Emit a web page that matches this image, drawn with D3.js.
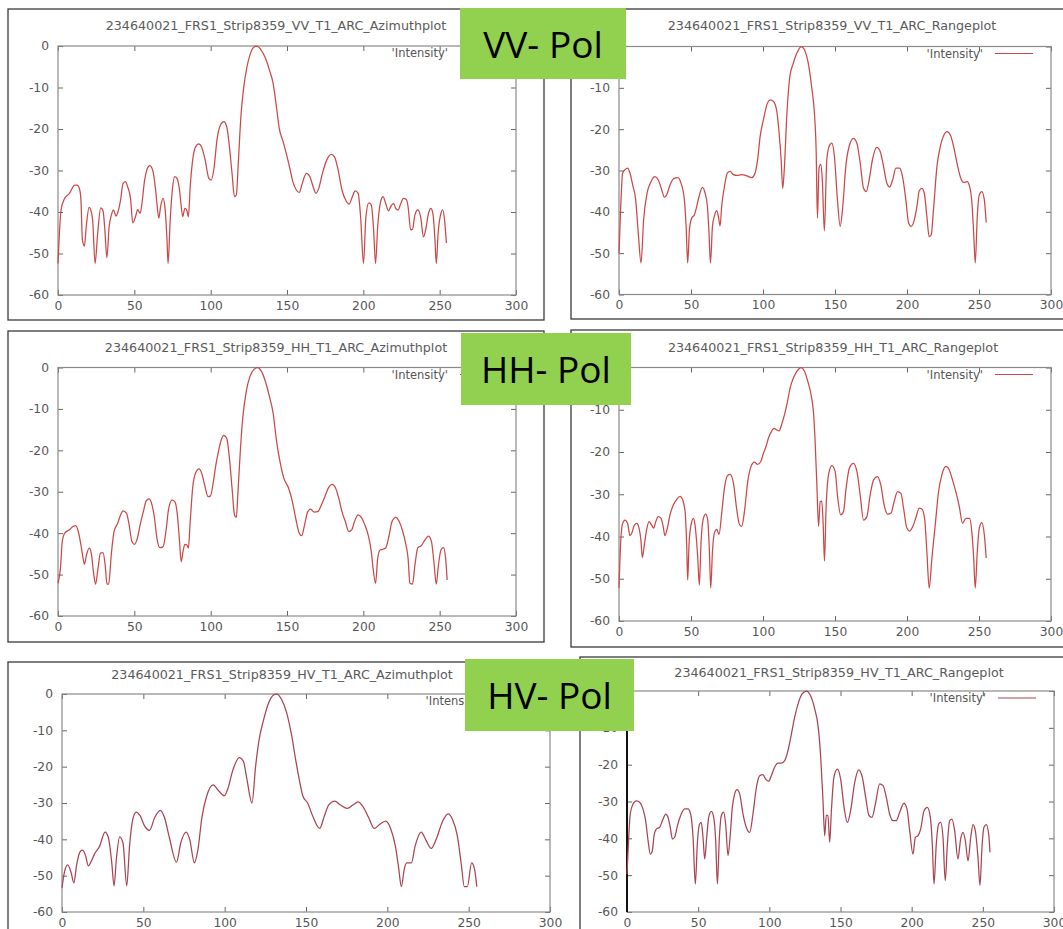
<!DOCTYPE html>
<html>
<head>
<meta charset="utf-8">
<script src="https://cdn.jsdelivr.net/npm/d3@7"></script>
<style>
body { margin: 0; background: #fff; }
svg { display: block; }
</style>
</head>
<body>
<div id="graph"></div>
<script>
var xTicks = [0, 50, 100, 150, 200, 250, 300];
var yTicks = [0, -10, -20, -30, -40, -50, -60];
var legendLabel = "'Intensity'";
var polLabels = ["VV- Pol", "HH- Pol", "HV- Pol"];
var plotTitles = [
  "234640021_FRS1_Strip8359_VV_T1_ARC_Azimuthplot",
  "234640021_FRS1_Strip8359_VV_T1_ARC_Rangeplot",
  "234640021_FRS1_Strip8359_HH_T1_ARC_Azimuthplot",
  "234640021_FRS1_Strip8359_HH_T1_ARC_Rangeplot",
  "234640021_FRS1_Strip8359_HV_T1_ARC_Azimuthplot",
  "234640021_FRS1_Strip8359_HV_T1_ARC_Rangeplot"
];

// [sample, dB]
var vvAzimuth = [[0,-52.4],[2,-39.5],[4,-37],[7.5,-35.5],[11,-33.5],[12.5,-33.5],[14,-34.3],[15,-37],[16,-46.7],[17.3,-48.2],[18.5,-43.5],[20.4,-38.9],[21.5,-39.5],[22.7,-42],[24.3,-52.4],[26,-45],[28,-39],[29.5,-39.7],[30.7,-44.3],[32,-51],[33.5,-43.5],[35,-40.7],[36.3,-39.5],[38,-41],[39,-40.3],[41,-37.1],[42.6,-33.1],[44.2,-32.7],[45.6,-33.9],[47.5,-36.7],[49,-42.6],[50.8,-41.1],[52.2,-39.4],[53.8,-40.3],[55,-37.9],[56.6,-32.7],[58.5,-29.5],[60.1,-28.8],[62,-29.9],[63.7,-33.9],[64.8,-37.9],[66,-41.5],[67.2,-38.7],[68.8,-36.7],[70,-38.7],[71.4,-46.7],[72.1,-52.4],[73.5,-41.9],[74.9,-34.7],[76.5,-31.5],[77.9,-31.9],[79.6,-34.7],[80.5,-37.9],[81.7,-41.1],[83.1,-39.1],[84.3,-39.5],[85.4,-41.1],[86.6,-33.9],[88.2,-27.5],[90.1,-24.3],[92.2,-23.6],[94,-24.3],[96.4,-27.5],[98.8,-31.9],[100.4,-32.3],[102.3,-29.1],[104.1,-22.7],[106.5,-19],[108.6,-18.2],[110.5,-19.4],[112.3,-24.3],[114,-30.7],[115.6,-36.3],[116.8,-35.9],[118.2,-27.5],[119.8,-17],[121.7,-9.8],[123.8,-5],[125.7,-2.2],[128,-0.4],[130.4,0],[132.7,-0.8],[135.5,-2.6],[138.5,-5.8],[140.9,-9],[143.2,-15],[144.9,-19.8],[147.4,-23],[149.8,-26.3],[152.1,-29.9],[153.8,-32.7],[156.1,-34.7],[158,-35.3],[160,-33.1],[162.7,-30.7],[165,-31.5],[167.1,-33.9],[169,-35.5],[170.8,-34.3],[173.2,-30.7],[176,-27.5],[179,-26.1],[181.1,-26.7],[183.5,-29.9],[186,-34.7],[188.4,-37.1],[190.7,-38.1],[192.8,-36.3],[194.7,-34.9],[196.6,-35.5],[198.2,-41.1],[200.1,-52.4],[201.7,-41.1],[203.6,-37.8],[205.2,-38.3],[206.6,-43.5],[208,-52.4],[209.4,-43.5],[211.1,-37.9],[212.9,-36.3],[214.6,-37.9],[216.5,-39.7],[218.1,-38.6],[219.8,-37.9],[221.2,-39.1],[222.8,-39.5],[224.4,-38.1],[226.3,-36.7],[228.2,-37],[229.3,-38.7],[231,-44.3],[232.2,-44.2],[233.8,-40.7],[235.7,-39.5],[237.5,-41.1],[239.4,-46],[240.8,-44.3],[242.7,-40.3],[244.3,-39.1],[245.7,-40.7],[246.9,-46.7],[247.8,-52.4],[249,-45.1],[250.4,-41],[252,-39.5],[253.2,-41.9],[254.4,-47.5]];

var vvRange = [[0,-50],[1.2,-38.7],[2.5,-30.6],[4.2,-29.8],[6,-29.4],[7.6,-30.6],[9.5,-33.5],[11.6,-37.1],[13.4,-45.2],[15.3,-52.4],[17.1,-41.9],[19.5,-35.5],[22.2,-32.7],[25,-31.5],[27.3,-32.3],[29.7,-34.7],[31.5,-36.5],[33.1,-35.9],[35.4,-33.5],[38.2,-31.9],[40.8,-31.7],[43.1,-33.1],[45.4,-37.1],[46.6,-43.5],[47.7,-52.4],[48.9,-44.4],[50.5,-41.5],[52.4,-40.7],[53.7,-39.1],[55.6,-36.3],[57.9,-34.1],[59.8,-35.5],[61.4,-38.7],[62.5,-45.2],[63.5,-52.4],[64.9,-43.5],[66.2,-41.1],[67.9,-39.7],[69,-41.1],[70.2,-43.4],[71.3,-38.7],[73.2,-33.9],[75.3,-30.6],[77.1,-30.2],[79.5,-31],[81.8,-31.2],[85.2,-31],[88.7,-31.3],[92.2,-31.7],[94.5,-30.6],[96.4,-27],[98,-21.8],[100.3,-17.7],[103.1,-13.7],[104.9,-12.9],[107.3,-13.3],[109.6,-15.7],[111.2,-21],[112.6,-27.4],[113.7,-34.3],[114.9,-29],[116.5,-16.9],[118.8,-6.9],[121.1,-4],[123.5,-1.6],[126.5,0],[128.8,-0.8],[131.6,-4.4],[133.9,-10.1],[135.7,-16.1],[136.9,-25],[137.8,-41.5],[138.9,-29.4],[140.1,-28.5],[141.2,-32.3],[142.6,-44.6],[144.3,-27.4],[145.9,-24.2],[147.8,-23.4],[149.6,-26.6],[151.7,-37.1],[153.6,-43.5],[155.4,-38.7],[157.5,-29],[159.8,-24.2],[162.8,-22.2],[165.2,-23.4],[167.5,-28.2],[169.8,-34.3],[171.7,-35.1],[173.7,-32.3],[176,-27.4],[179,-24.4],[181.4,-25.4],[183.7,-29],[186,-33.1],[187.9,-34],[190,-32.3],[192.3,-29.4],[194.8,-29.4],[196.9,-31.5],[199.2,-37.1],[201.1,-42.7],[202.9,-43.5],[204.8,-42.3],[206.9,-38.7],[208.5,-34.9],[210.3,-34.3],[212,-35.5],[213.8,-41.1],[215.4,-46],[216.8,-45.6],[218.4,-39.5],[220.8,-29],[223.1,-24.2],[225.4,-21.6],[227.8,-20.6],[230.1,-21.4],[232.4,-24.2],[234.7,-28.2],[237,-31.5],[239.4,-32.9],[241.7,-32.7],[243.5,-33.9],[245.1,-37.9],[246.3,-45.2],[247.4,-52.4],[248.8,-41.1],[250.2,-35.9],[252,-35.1],[253.7,-37.1],[255,-42.6]];

var hhAzimuth = [[0,-52.1],[1.6,-48.5],[2.8,-42],[4.4,-40],[7.5,-39.2],[9.8,-38.4],[11.5,-38.2],[13.3,-39.6],[15,-42.8],[16.4,-46],[17.3,-47.5],[18.7,-45.2],[20.4,-43.6],[21.8,-44.8],[23.2,-49.3],[24.6,-52.3],[26.2,-48.5],[27.8,-44.8],[29.5,-44.7],[30.9,-47.7],[32.1,-52.3],[33.2,-52.3],[34.9,-45.2],[36.7,-39.6],[39.1,-37.6],[41,-35.6],[42.6,-34.6],[44.9,-35.2],[46.6,-38],[48.4,-42],[50.1,-42.7],[52,-41.2],[53.8,-38],[55.9,-34.8],[57.8,-32.2],[59.7,-31.7],[61.3,-32.8],[63.2,-36.4],[64.8,-41.2],[66.7,-43.5],[68.8,-43.3],[70.7,-39.6],[72.5,-34],[74.7,-32],[76.5,-32.4],[78.2,-35.6],[79.6,-42],[80.7,-46.9],[81.9,-44.4],[83.1,-42.7],[84.3,-42.8],[85.4,-43.6],[86.6,-37.2],[88.2,-29.1],[90.1,-25.5],[92.4,-24.5],[94.1,-25.5],[96,-28.3],[98.3,-31.2],[99.9,-31],[101.8,-27.5],[103.4,-23.5],[105.1,-20.3],[106.9,-17.5],[108.6,-16.4],[110.5,-17.1],[112.3,-21.9],[114,-29.1],[115.6,-35.6],[116.8,-36.2],[117.9,-30],[119.4,-20.3],[121,-12.2],[123.3,-5.8],[125.7,-2.2],[128.5,-0.4],[130.8,0],[133.4,-1],[136.2,-3.8],[138.5,-7],[140.9,-11],[143.2,-17.9],[145.6,-23.1],[147.9,-26.7],[151,-29.1],[153.3,-32],[155.7,-36.4],[158,-40],[159.7,-40.6],[161.5,-38],[163.6,-34.8],[165.5,-34.2],[167.8,-34.9],[170.2,-34.8],[172.5,-33.2],[174.8,-31.2],[177.2,-29],[179.5,-28.2],[181.8,-29.1],[184.2,-32],[186,-34.8],[188.2,-37.2],[190.5,-39.6],[192.4,-39.2],[194.2,-37.2],[196.6,-35.6],[198.7,-36.2],[201,-38],[203.4,-40.8],[205.2,-44.4],[206.4,-48.5],[208,-52.1],[209.4,-46.1],[211.1,-44],[212.7,-43.9],[214.6,-43.6],[216.5,-41.2],[218.8,-37.2],[221.2,-36.2],[223.5,-37.2],[225.8,-39.6],[227.9,-42.8],[229.3,-46],[230.5,-52.1],[232.2,-52.3],[233.8,-47.7],[235.7,-43.5],[238,-43],[240.4,-41.6],[242.7,-40.7],[244.6,-42],[246.2,-46.9],[247.8,-52.3],[249.2,-47.7],[250.9,-44],[252.5,-43.5],[253.9,-46.1],[254.9,-51.3]];

var hhRange = [[0,-52.2],[1.2,-41.2],[2.5,-36.9],[4.2,-36.1],[6,-36.9],[7.6,-39.8],[8.8,-39.3],[10.7,-37.3],[12.3,-36.9],[13.9,-38],[15.3,-41.2],[16.2,-45],[17.6,-42],[19.2,-38.4],[20.8,-36.5],[22.7,-37.3],[24.1,-38],[25.5,-36.5],[27.3,-35.3],[29.2,-35.7],[30.8,-37.9],[31.9,-39.8],[33.6,-38],[35.4,-34.9],[37.8,-32.5],[40.1,-31.2],[42.4,-30.5],[44.2,-31.3],[45.9,-34.1],[47,-42],[47.7,-50.3],[48.6,-42],[50,-37.3],[51.7,-35.7],[52.8,-37.3],[54.7,-45.1],[55.8,-51.5],[57,-41.2],[58.6,-35.7],[60.2,-34.7],[61.6,-36.1],[62.8,-43.6],[63.7,-52.2],[64.9,-43.6],[66.2,-39.2],[67.9,-38.3],[69.5,-39.5],[71.3,-34.5],[73.2,-28.6],[75.3,-25.6],[77.1,-25.3],[79.5,-27.4],[81.8,-33.7],[83.6,-37.1],[85.2,-37.6],[87.1,-34.1],[89.4,-27],[91.7,-23.4],[94,-22.4],[96.3,-22.9],[98.4,-22.3],[100.3,-20.3],[102.1,-18.7],[103.8,-16.7],[106.1,-15],[107.7,-14.4],[109.6,-14.8],[111.2,-15],[113,-13.4],[114.9,-11.2],[117,-8.1],[118.8,-4.9],[121.1,-2.5],[123.5,-0.9],[126.5,0],[128.8,-0.9],[131.1,-3.3],[133.4,-6.5],[135.1,-10.8],[136.2,-17.5],[137.4,-27.8],[138.6,-37.6],[139.7,-31.7],[140.8,-31.6],[141.8,-37.3],[142.7,-45.8],[143.8,-33.3],[145.5,-25.4],[147.8,-23.2],[150.1,-24.6],[151.9,-30.9],[154,-34.9],[155.9,-34.1],[157.7,-28.6],[160,-23.8],[162.8,-22.7],[165.2,-24.6],[167.5,-30.2],[169.8,-36.1],[172.1,-35.3],[174.4,-30.2],[176.8,-26.6],[179.5,-25.8],[181.8,-27.8],[184.1,-32.5],[186.5,-34.7],[188.8,-34.5],[191.1,-31.7],[193.4,-29.4],[195.8,-29.8],[197.6,-33.3],[199.9,-38],[201.8,-38.7],[204.1,-37.6],[206.2,-35.5],[208.5,-33.3],[210.3,-33.5],[212.2,-35.7],[213.8,-43.6],[215.4,-52.2],[217.3,-45.1],[219.6,-37.3],[221.9,-29.4],[224.2,-25.4],[227,-23.4],[229.3,-24.2],[231.6,-26.6],[233.9,-29.4],[236.3,-32.9],[238.6,-36.9],[240.9,-35.7],[243.5,-35.7],[245.1,-39.2],[246.3,-45.1],[247.4,-52.2],[248.8,-43.6],[250.2,-38],[252,-36.7],[253.7,-39.6],[255,-45.1]];

var hvAzimuth = [[0,-53.3],[1.5,-49],[3.5,-47],[5.5,-49],[7.3,-52],[9,-47],[11,-43.5],[12.5,-43],[14.5,-44.5],[16.2,-47.3],[18,-46],[20,-44],[23,-42],[26.5,-38],[28.5,-39.5],[30.5,-46],[32,-52.8],[33.5,-45],[35.5,-39.3],[37.5,-41],[39.8,-52.8],[41.5,-42],[43.5,-34.5],[45.6,-32.5],[48,-33.5],[51,-36.5],[53.8,-37.5],[57,-34],[60.4,-32],[63,-34],[66,-39.5],[70.4,-46.3],[73,-41],[76.3,-38],[78.5,-40],[81.4,-46.5],[83.5,-43],[86,-34],[89,-28],[92.9,-25],[96,-26.5],[99.8,-28],[102,-26],[105,-21],[109,-17.5],[111.5,-18.5],[113.5,-23],[116.8,-30],[119,-20],[121,-13],[124,-7],[127,-2.5],[130,-0.3],[132,0],[135,-1.5],[138,-5],[141,-11],[144,-19],[146.5,-25],[148,-28],[151,-30],[154.5,-34],[158.4,-37],[161,-34],[164,-30.5],[167.7,-29.5],[171,-30.5],[175.4,-31.5],[179,-30.5],[182,-29.7],[185,-31],[188.5,-34],[192,-37],[195,-36],[199,-35],[202,-37],[205,-42],[207,-48],[208.6,-53],[210.5,-48],[212,-46.5],[214.8,-46.5],[217,-42],[220.8,-38],[223.5,-40],[227,-42.5],[230,-40],[234,-35],[237.4,-33],[240,-34.5],[243,-39],[245.5,-47],[247.3,-53],[249.2,-53],[251.8,-46.5],[253.5,-48],[255,-53]];

var hvRange = [[0,-49.7],[1.2,-39.7],[2.3,-33.4],[4.2,-30.7],[6.6,-29.8],[8.9,-30.2],[11.2,-32],[13.1,-35.2],[14.8,-40.6],[16.4,-44.3],[17.8,-43.4],[19,-39.3],[20.6,-37.5],[22.9,-37],[25.3,-34.8],[27.2,-33.4],[28.8,-34.3],[30.4,-37],[31.9,-40.2],[33.5,-39.7],[35.4,-36.6],[37.7,-33.8],[40.5,-32],[42.9,-32],[44.7,-33.4],[46.4,-39.7],[48,-52.4],[49.4,-41.5],[51,-36.1],[52.2,-35.7],[53.4,-39.7],[54.6,-45.6],[56,-39.7],[57.4,-34.3],[59.3,-32.7],[60.9,-34.3],[62.3,-40.6],[63.5,-52.4],[64.9,-39.7],[66.3,-33.8],[67.9,-32.9],[69.3,-36.1],[71,-44.7],[72.4,-39.7],[74,-31.6],[75.6,-28],[77.3,-26.8],[79.2,-28],[81.5,-33.4],[83.8,-37],[86.2,-38.4],[88.5,-33.4],[90.9,-26.2],[93.2,-23],[95.5,-22.7],[97.4,-23.9],[99.5,-24.5],[101.4,-23],[103.7,-20.7],[106.1,-19.6],[108.4,-19.6],[110.8,-18.9],[113.1,-16.2],[115.5,-11.7],[117.8,-7.1],[120.2,-3.5],[123,-0.8],[126,0],[129,-1.3],[131.9,-4.9],[134.2,-9.4],[136.1,-18],[137.7,-29.8],[138.9,-39.3],[140,-33.8],[141.2,-33.8],[142.4,-41.1],[143.6,-32.5],[145.4,-23.4],[147.8,-21.2],[150.1,-23.9],[152.5,-31.6],[154.8,-35.7],[157.1,-32.5],[160,-24.8],[162.8,-21.4],[165.3,-23.4],[167.7,-28.9],[170,-33.8],[172.1,-34.3],[174.5,-30.7],[177.5,-25.2],[179.9,-25.7],[182.2,-28.9],[184.5,-33.4],[186.9,-35.2],[189.2,-35.2],[191.6,-32.9],[194.6,-30.5],[196.7,-32],[198.6,-37.9],[200.9,-44.3],[202.6,-39.7],[204.4,-39.3],[206.3,-37.5],[208.7,-32.5],[211,-31.6],[213.1,-34.3],[214.5,-41.5],[215.7,-52.4],[217.3,-41.5],[219,-36.1],[220.4,-35.7],[222,-39.7],[223.6,-51.5],[225.1,-41.5],[226.7,-35.2],[228.3,-34.8],[230.2,-37.9],[232.5,-45.6],[234.4,-40.2],[236.1,-38.4],[237.7,-40.6],[239.6,-46.1],[241.5,-39.7],[243.1,-36.3],[244.7,-37.9],[246.6,-45.2],[248,-52.8],[249.4,-42.4],[250.8,-37],[252.4,-36.3],[254.1,-38.8],[255,-43.8]];

var w = 1063, h = 929;

var svg = d3.select("#graph")
  .append("svg")
  .attr("width", w)
  .attr("height", h);

// panel layout: border box, plot box, title position
var panels = [
  {data: vvAzimuth, title: plotTitles[0], bx: [8, 544], by: [9, 320], px: [58, 516], py: [46, 295], tx: 276, ty: 30, color: "#cb4848"},
  {data: vvRange, title: plotTitles[1], bx: [571, 1075], by: [9, 319], px: [619, 1051], py: [46.5, 294.5], tx: 832, ty: 30, color: "#cb4848"},
  {data: hhAzimuth, title: plotTitles[2], bx: [8, 544], by: [331, 642], px: [58, 516], py: [367.5, 616], tx: 276, ty: 352, color: "#cb4848"},
  {data: hhRange, title: plotTitles[3], bx: [571, 1075], by: [330, 647], px: [619, 1051], py: [367.5, 621], tx: 833, ty: 352, color: "#cb4848"},
  {data: hvAzimuth, title: plotTitles[4], bx: [8, 590], by: [662, 945], px: [62, 550], py: [694, 912], tx: 282, ty: 679, color: "#a84452"},
  {data: hvRange, title: plotTitles[5], bx: [580, 1075], by: [657, 945], px: [627, 1054], py: [691, 912], tx: 839, ty: 677, color: "#a84452", darkAxis: true}
];

panels.forEach(drawPanel);

function drawPanel(p) {
  var g = svg.append("g");

  g.append("rect")
    .attr("x", p.bx[0]).attr("y", p.by[0])
    .attr("width", p.bx[1] - p.bx[0]).attr("height", p.by[1] - p.by[0])
    .attr("fill", "#fff")
    .attr("stroke", "#3a3a3a")
    .attr("stroke-width", 1.3);

  var x = d3.scaleLinear().domain([0, 300]).range(p.px);
  var y = d3.scaleLinear().domain([-60, 0]).range([p.py[1], p.py[0]]);

  g.append("text")
    .attr("x", p.tx).attr("y", p.ty)
    .attr("text-anchor", "middle")
    .attr("font-family", "DejaVu Sans")
    .attr("font-size", 12.7)
    .attr("fill", "#5a5a5a")
    .text(p.title);

  var plain = function(d) { return String(d); };

  // ticks on all four sides, pointing inwards (gnuplot style)
  var bottom = g.append("g")
    .attr("transform", "translate(0," + p.py[1] + ")")
    .call(d3.axisBottom(x).tickValues(xTicks).tickSize(-5).tickPadding(6).tickFormat(plain));
  var top = g.append("g")
    .attr("transform", "translate(0," + p.py[0] + ")")
    .call(d3.axisTop(x).tickValues(xTicks).tickSize(-5).tickFormat(""));
  var left = g.append("g")
    .attr("transform", "translate(" + p.px[0] + ",0)")
    .call(d3.axisLeft(y).tickValues(yTicks).tickSize(-5).tickPadding(9).tickFormat(plain));
  var right = g.append("g")
    .attr("transform", "translate(" + p.px[1] + ",0)")
    .call(d3.axisRight(y).tickValues(yTicks).tickSize(-5).tickFormat(""));

  [bottom, top, left, right].forEach(function(a) {
    a.select(".domain").remove();
    a.selectAll(".tick line").attr("stroke", "#666");
    a.selectAll("text")
      .attr("font-family", "DejaVu Sans")
      .attr("font-size", 12.3)
      .attr("fill", "#555");
  });

  g.append("rect")
    .attr("x", p.px[0]).attr("y", p.py[0])
    .attr("width", p.px[1] - p.px[0]).attr("height", p.py[1] - p.py[0])
    .attr("fill", "none")
    .attr("stroke", "#8a8a8a")
    .attr("stroke-width", 1.2);

  if (p.darkAxis) {
    g.append("line")
      .attr("x1", p.px[0]).attr("x2", p.px[0])
      .attr("y1", p.py[0]).attr("y2", p.py[1])
      .attr("stroke", "#111")
      .attr("stroke-width", 2);
  }

  // legend
  g.append("text")
    .attr("x", p.px[1] - 68).attr("y", p.py[0] + 7)
    .attr("dy", "0.35em")
    .attr("text-anchor", "end")
    .attr("font-family", "DejaVu Sans")
    .attr("font-size", 11.5)
    .attr("fill", "#555")
    .text(legendLabel);
  g.append("line")
    .attr("x1", p.px[1] - 56).attr("x2", p.px[1] - 18)
    .attr("y1", p.py[0] + 7).attr("y2", p.py[0] + 7)
    .attr("stroke", p.color)
    .attr("stroke-width", 1.2);

  var line = d3.line()
    .x(function(d) { return x(d[0]); })
    .y(function(d) { return y(d[1]); })
    .curve(d3.curveMonotoneX);

  g.append("path")
    .datum(p.data)
    .attr("d", line)
    .attr("fill", "none")
    .attr("stroke", p.color)
    .attr("stroke-width", 1.25)
    .attr("stroke-linejoin", "round");
}

// green polarisation tags on top of the screenshots
var tags = [
  {label: polLabels[0], x: 460, y: 8, w: 166, h: 71},
  {label: polLabels[1], x: 461, y: 333, w: 170, h: 72},
  {label: polLabels[2], x: 465, y: 659, w: 169, h: 72}
];

var tag = svg.selectAll("g.tag")
  .data(tags)
  .enter()
  .append("g")
  .attr("class", "tag");

tag.append("rect")
  .attr("x", function(d) { return d.x; })
  .attr("y", function(d) { return d.y; })
  .attr("width", function(d) { return d.w; })
  .attr("height", function(d) { return d.h; })
  .attr("fill", "#92d050");

tag.append("text")
  .attr("x", function(d) { return d.x + d.w / 2; })
  .attr("y", function(d) { return d.y + d.h / 2 + 14; })
  .attr("text-anchor", "middle")
  .attr("font-family", "Open Sans")
  .attr("font-size", 37)
  .attr("fill", "#000")
  .text(function(d) { return d.label; });
</script>
</body>
</html>
